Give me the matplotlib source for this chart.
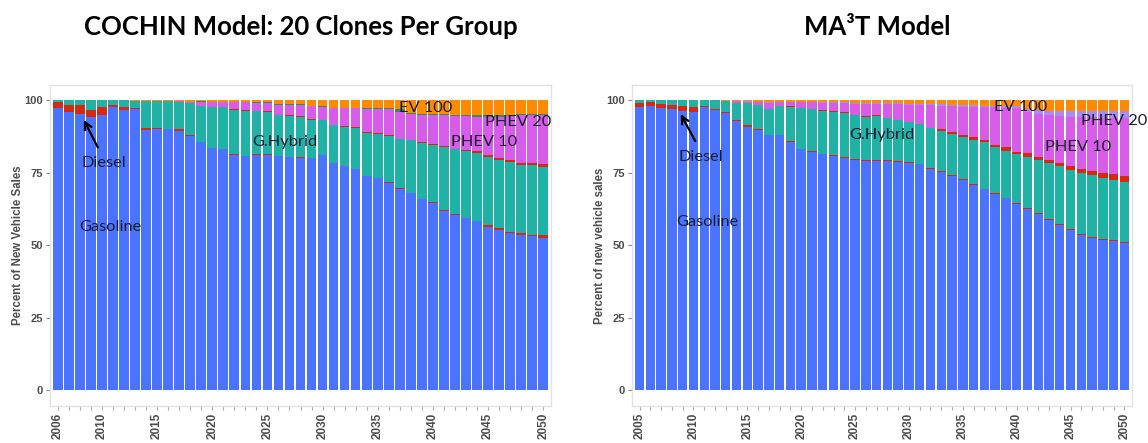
import numpy as np
import matplotlib
matplotlib.use("Agg")
import matplotlib.pyplot as plt

# ---- data: share of new vehicle sales (%), stacked bottom to top ----
cochin_years = list(range(2006, 2051))
cochin_ticks = [2006, 2010, 2015, 2020, 2025, 2030, 2035, 2040, 2045, 2050]

cochin_gasoline = [97.1, 96.0, 95.1, 94.0, 94.9, 97.7, 96.6, 96.8, 89.7, 89.9,
                   89.9, 89.5, 87.7, 85.6, 83.4, 83.0, 81.0, 80.7, 81.2, 81.2,
                   80.7, 80.2, 80.1, 80.0, 81.0, 78.2, 77.2, 76.1, 73.8, 73.2,
                   71.5, 69.3, 68.0, 65.9, 64.6, 61.8, 60.3, 59.4, 58.3, 56.3,
                   55.2, 54.0, 53.4, 53.1, 52.6]
cochin_diesel = [2.3, 2.3, 3.2, 2.6, 2.8, 0.5, 0.9, 0.6, 0.5, 0.3,
                 0.1, 0.5, 0.1, 0.1, 0.1, 0.1, 0.3, 0.1, 0.1, 0.1,
                 0.1, 0.1, 0.3, 0.1, 0.1, 0.1, 0.1, 0.1, 0.1, 0.1,
                 0.1, 0.3, 0.1, 0.1, 0.1, 0.3, 0.5, 0.1, 0.1, 0.7,
                 0.7, 0.5, 0.6, 0.5, 0.7]
cochin_hybrid = [0.6, 1.7, 1.7, 3.4, 2.3, 1.8, 2.5, 2.4, 9.6, 9.6,
                 9.6, 9.4, 11.1, 12.1, 14.2, 14.6, 15.4, 15.6, 15.0, 14.7,
                 14.0, 14.2, 13.9, 13.2, 12.0, 13.0, 13.5, 14.0, 14.6, 14.9,
                 16.0, 17.0, 18.1, 19.1, 19.8, 21.6, 22.2, 23.0, 23.5, 23.5,
                 23.4, 24.0, 23.6, 24.0, 23.7]
cochin_dhybrid = [0, 0, 0, 0, 0, 0, 0, 0, 0, 0,
                  0, 0, 0, 0, 0, 0, 0.2, 0.1, 0.1, 0.1,
                  0.1, 0.2, 0.1, 0.1, 0.1, 0.1, 0.1, 0.4, 0.5, 0.5,
                  0.2, 0.1, 0.1, 0.3, 0.3, 0.3, 0.3, 0.2, 0.5, 0.6,
                  0.7, 0.8, 0.8, 0.8, 1.0]
cochin_phev10 = [0, 0, 0, 0, 0, 0, 0, 0, 0, 0,
                 0, 0.3, 0.6, 1.5, 1.5, 1.5, 2.3, 2.7, 2.5, 2.8,
                 3.5, 3.6, 3.9, 4.4, 4.5, 5.7, 6.2, 6.5, 8.0, 8.3,
                 9.2, 9.3, 8.9, 9.4, 9.9, 10.7, 11.2, 11.7, 11.9, 13.2,
                 14.3, 15.1, 16.4, 16.4, 16.8]
cochin_phev20 = [0] * 45
cochin_other = [0, 0, 0, 0, 0, 0, 0, 0, 0, 0,
                0, 0, 0, 0.3, 0.3, 0.3, 0.3, 0.3, 0.3, 0.3,
                0.3, 0.3, 0.3, 0.3, 0.3, 0.3, 0.3, 0.3, 0.3, 0.3,
                0.3, 0.8, 0.5, 0.5, 0.5, 0.5, 0.5, 0.5, 0.5, 0.5,
                0.5, 0.5, 0.5, 0.5, 0.5]
cochin_ev100 = [0, 0, 0, 0, 0, 0, 0, 0.2, 0.2, 0.2,
                0.4, 0.3, 0.5, 0.4, 0.5, 0.5, 0.5, 0.5, 0.8, 0.8,
                1.3, 1.4, 1.4, 1.9, 2.0, 2.6, 2.6, 2.6, 2.7, 2.7,
                2.7, 3.2, 4.3, 4.7, 4.8, 4.8, 5.0, 5.1, 5.2, 5.2,
                5.2, 5.1, 4.7, 4.7, 4.7]

ma3t_years = list(range(2005, 2051))
ma3t_ticks = [2005, 2010, 2015, 2020, 2025, 2030, 2035, 2040, 2045, 2050]

ma3t_gasoline = [97.7, 97.9, 97.1, 96.8, 96.4, 96.0, 97.7, 96.6, 95.6, 92.9,
                 90.8, 89.7, 87.9, 87.9, 85.6, 83.0, 82.1, 81.3, 80.7, 79.9,
                 79.5, 79.1, 79.1, 79.0, 78.7, 78.4, 77.9, 76.4, 75.3, 73.8,
                 72.4, 70.7, 69.2, 67.6, 66.1, 64.1, 62.4, 60.7, 58.6, 56.9,
                 55.2, 53.4, 52.6, 51.9, 51.5, 50.8]
ma3t_diesel = [1.2, 1.4, 1.5, 1.5, 1.4, 1.7, 0.3, 0.4, 0.4, 0.4,
               0.5, 0.3, 0.2, 0.1, 0.2, 0.2, 0.4, 0.2, 0.3, 0.3,
               0.2, 0.2, 0.2, 0.2, 0.2, 0.2, 0.2, 0.3, 0.3, 0.3,
               0.3, 0.3, 0.3, 0.3, 0.3, 0.3, 0.3, 0.3, 0.3, 0.3,
               0.3, 0.3, 0.3, 0.3, 0.3, 0.3]
ma3t_hybrid = [1.1, 0.7, 1.4, 1.7, 2.2, 2.3, 2.0, 3.0, 3.7, 5.8,
               7.6, 8.3, 8.7, 10.0, 11.9, 13.9, 14.3, 14.8, 15.0, 15.4,
               15.1, 15.0, 15.2, 14.5, 14.2, 13.7, 13.5, 13.5, 13.6, 14.2,
               14.7, 15.4, 15.9, 15.8, 16.1, 16.9, 17.8, 18.3, 19.3, 20.0,
               20.4, 21.2, 21.2, 21.1, 20.8, 20.7]
ma3t_dhybrid = [0, 0, 0, 0, 0, 0, 0, 0, 0, 0,
                0, 0, 0, 0, 0.2, 0.2, 0.2, 0.2, 0.2, 0.2,
                0.2, 0.2, 0.2, 0.2, 0.2, 0.2, 0.2, 0.2, 0.7, 0.7,
                0.6, 1.0, 0.8, 0.8, 1.2, 0.9, 1.1, 1.2, 1.1, 1.2,
                1.3, 1.4, 1.5, 1.6, 1.9, 2.0]
ma3t_phev10 = [0, 0, 0, 0, 0, 0, 0, 0, 0.1, 0.5,
               0.6, 1.0, 2.1, 1.3, 1.3, 1.9, 2.2, 2.5, 2.8, 3.1,
               3.8, 4.1, 3.9, 4.6, 5.2, 5.9, 6.5, 7.8, 8.2, 9.0,
               9.7, 10.3, 11.3, 13.0, 13.4, 14.9, 14.4, 14.7, 15.5, 16.1,
               17.1, 17.7, 18.4, 18.8, 19.2, 19.9]
ma3t_phev20 = [0, 0, 0, 0, 0, 0, 0, 0, 0, 0.1,
               0.1, 0.2, 0.3, 0.2, 0.2, 0.2, 0.2, 0.3, 0.3, 0.3,
               0.3, 0.4, 0.3, 0.4, 0.4, 0.4, 0.4, 0.4, 0.4, 0.4,
               0.5, 0.5, 0.5, 0.5, 0.8, 0.8, 0.8, 1.4, 1.5, 1.8,
               2.0, 2.3, 2.3, 2.6, 2.6, 2.6]
ma3t_other = [0] * 46
ma3t_ev100 = [0, 0, 0, 0, 0, 0, 0, 0, 0.2, 0.3,
              0.4, 0.5, 0.8, 0.5, 0.6, 0.6, 0.6, 0.7, 0.7, 0.8,
              0.9, 1.0, 1.1, 1.1, 1.1, 1.2, 1.3, 1.4, 1.5, 1.6,
              1.8, 1.8, 2.0, 2.0, 2.1, 2.1, 3.2, 3.4, 3.7, 3.7,
              3.7, 3.7, 3.7, 3.7, 3.7, 3.7]

# stack order and fill colours
layer_colors = ["#4a74ff", "#d8280e", "#20b3a5", "#d8280e",
                "#d65ce9", "#a98cf2", "#2f8f5a", "#ff8a00"]

TEXT = "#1c1c30"
TICK = "#4d4d4d"


def draw_panel(ax, years, layers, ticks, ylabel_x, ylabel):
    bottom = np.zeros(len(years))
    for vals, color in zip(layers, layer_colors):
        vals = np.asarray(vals, dtype=float)
        ax.bar(years, vals, bottom=bottom, width=0.87, color=color,
               linewidth=0, zorder=2)
        bottom += vals

    ax.set_xlim(years[0] - 0.7, years[-1] + 0.7)
    ax.set_ylim(-5.5, 105.2)
    ax.set_yticks([0, 25, 50, 75, 100])
    ax.set_xticks(ticks)
    ax.set_xticks(years, minor=True)
    ax.tick_params(axis="x", which="both", length=3, color="#aaaaaa",
                   width=0.8, pad=2)
    ax.tick_params(axis="y", length=3, color="#888888", width=0.8, pad=2)
    for lab in ax.get_yticklabels():
        lab.set_fontfamily("Liberation Sans")
        lab.set_fontweight("bold")
        lab.set_fontsize(8)
        lab.set_color(TICK)
    for lab in ax.get_xticklabels():
        lab.set_fontfamily("Liberation Sans")
        lab.set_fontweight("bold")
        lab.set_fontsize(8.5)
        lab.set_color(TICK)
        lab.set_rotation(90)
    for sp in ax.spines.values():
        sp.set_color("#e2e2e2")
        sp.set_linewidth(1.0)

    fig = ax.figure
    pos = ax.get_position()
    fig.text(ylabel_x, pos.y0 + pos.height * 0.5, ylabel, rotation=90,
             ha="center", va="center", fontsize=8.3, fontweight="bold",
             family="Liberation Sans", color=TICK)


def label(ax, x, y, s, **kw):
    ax.text(x, y, s, ha="center", va="center", fontsize=11.8,
            family="Lato", color=TEXT, zorder=5, **kw)


fig = plt.figure(figsize=(11.48, 4.43), dpi=100)
ax_l = fig.add_axes([50 / 1148, 1 - 406 / 443, 501 / 1148, 321 / 443])
ax_r = fig.add_axes([632 / 1148, 1 - 406 / 443, 500 / 1148, 321 / 443])

draw_panel(ax_l, cochin_years,
           [cochin_gasoline, cochin_diesel, cochin_hybrid, cochin_dhybrid,
            cochin_phev10, cochin_phev20, cochin_other, cochin_ev100],
           cochin_ticks, 18 / 1148, "Percent of New Vehicle Sales")
draw_panel(ax_r, ma3t_years,
           [ma3t_gasoline, ma3t_diesel, ma3t_hybrid, ma3t_dhybrid,
            ma3t_phev10, ma3t_phev20, ma3t_other, ma3t_ev100],
           ma3t_ticks, 600 / 1148, "Percent of new vehicle sales")

# fuel labels, left panel
label(ax_l, 2010.2, 78.4, "Diesel")
label(ax_l, 2010.8, 56.3, "Gasoline")
label(ax_l, 2026.6, 85.5, "G.Hybrid")
label(ax_l, 2039.3, 97.3, "EV 100")
label(ax_l, 2044.6, 85.6, "PHEV 10")
label(ax_l, 2047.7, 92.3, "PHEV 20")
ax_l.annotate("", xy=(2008.25, 94.0), xytext=(2009.75, 82.8),
              arrowprops=dict(arrowstyle="->", lw=1.6, color="black",
                              mutation_scale=13), zorder=6)

# fuel labels, right panel
label(ax_r, 2010.7, 80.2, "Diesel")
label(ax_r, 2011.3, 58.0, "Gasoline")
label(ax_r, 2027.5, 87.9, "G.Hybrid")
label(ax_r, 2040.4, 97.7, "EV 100")
label(ax_r, 2045.7, 83.7, "PHEV 10")
label(ax_r, 2049.0, 92.9, "PHEV 20", clip_on=False)
ax_r.annotate("", xy=(2008.7, 96.0), xytext=(2010.3, 85.0),
              arrowprops=dict(arrowstyle="->", lw=1.6, color="black",
                              mutation_scale=13), zorder=6)

fig.text(301 / 1148, 1 - 27 / 443, "COCHIN Model: 20 Clones Per Group",
         ha="center", va="center", fontsize=18.5, fontweight="bold",
         family="Lato", color="black")
fig.text(877 / 1148, 1 - 27 / 443, "MA\u00b3T Model",
         ha="center", va="center", fontsize=18.5, fontweight="bold",
         family="Lato", color="black")

fig.savefig("out.png", dpi=100, facecolor="white")
